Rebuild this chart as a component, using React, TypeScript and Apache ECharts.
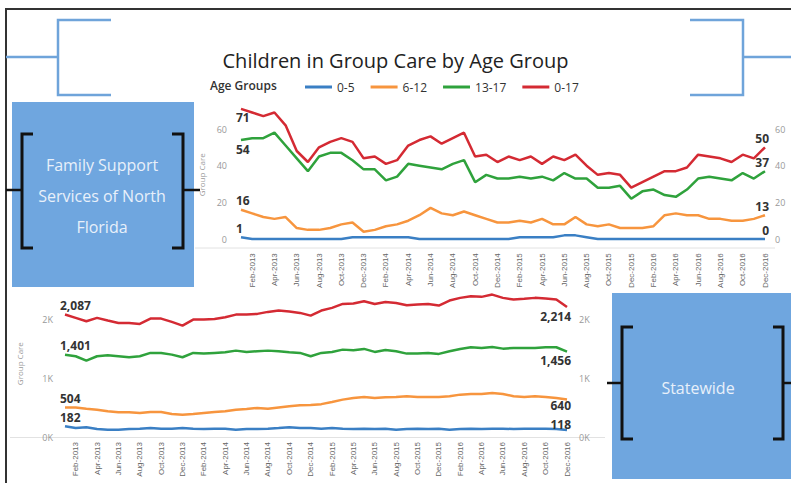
import React, { useEffect, useRef } from "react";
import * as echarts from "echarts";

const months = [
  "Jan-2013","Feb-2013","Mar-2013","Apr-2013","May-2013","Jun-2013","Jul-2013","Aug-2013","Sep-2013","Oct-2013","Nov-2013","Dec-2013",
  "Jan-2014","Feb-2014","Mar-2014","Apr-2014","May-2014","Jun-2014","Jul-2014","Aug-2014","Sep-2014","Oct-2014","Nov-2014","Dec-2014",
  "Jan-2015","Feb-2015","Mar-2015","Apr-2015","May-2015","Jun-2015","Jul-2015","Aug-2015","Sep-2015","Oct-2015","Nov-2015","Dec-2015",
  "Jan-2016","Feb-2016","Mar-2016","Apr-2016","May-2016","Jun-2016","Jul-2016","Aug-2016","Sep-2016","Oct-2016","Nov-2016","Dec-2016",
];

const ageGroups = ["0-5", "6-12", "13-17", "0-17"];

// Family Support Services of North Florida
const fs0to5 = [1,0,0,0,0,0,0,0,0,0,1,1,1,1,1,1,0,0,0,0,0,0,0,0, 0,1,1,1,1,2,2,1,0,0,0,0,0,0,0,0,0,0,0,0,0,0,0,0];
const fs6to12 = [16,14,12,11,12,6,5,5,6,8,9,4,5,7,8,10,13,17,14,13,15,13,11,9, 9,10,9,11,8,8,12,8,7,8,6,6,6,7,13,14,13,13,11,11,10,10,11,13];
const fs13to17 = [54,55,55,58,51,44,37,45,47,47,43,38,38,32,34,41,40,39,38,41,43,31,35,33, 33,34,33,34,32,36,33,33,28,28,29,22,26,27,24,23,27,33,34,33,32,36,33,37];
const fs0to17 = [71,69,67,69,62,48,42,50,53,55,53,44,45,41,43,51,54,56,52,55,58,45,46,42, 45,43,45,41,45,43,46,40,35,36,35,28,31,34,37,37,39,46,45,44,42,46,44,50];

// Statewide
const sw0to5 = [182,153,165,136,125,125,136,142,153,142,142,153,142,136,142,142,125,136,136,142,153,165,153, 153,142,153,142,136,142,136,142,125,136,142,136,142,125,136,142,136,142,142,136,142,142,142,136,118];
const sw6to12 = [504,504,483,466,438,421,421,409,426,426,392,381,392,409,426,438,466,478,495,483,504,523,540, 545,560,597,637,665,682,665,676,682,694,682,682,682,694,722,733,733,750,733,694,682,694,682,665,640];
const sw13to17 = [1401,1376,1302,1376,1393,1376,1359,1376,1433,1433,1404,1359,1433,1421,1433,1444,1472,1450,1461,1472,1461,1444,1433, 1376,1433,1450,1489,1478,1501,1450,1484,1461,1421,1421,1433,1416,1461,1501,1529,1518,1535,1506,1518,1518,1518,1529,1529,1456];
const sw0to17 = [2087,2030,1973,2030,1984,1944,1944,1927,2018,2018,1961,1899,2001,2001,2012,2041,2086,2086,2098,2132,2155,2140,2115, 2069,2155,2200,2268,2274,2314,2268,2302,2285,2246,2257,2268,2240,2325,2371,2399,2388,2427,2371,2342,2354,2371,2359,2342,2214];

const topTicks = [0, 20, 40, 60];
const bottomTicks = [0, 1000, 2000];

const colors = ["#3a7fc4", "#f7953e", "#2fa23c", "#d42a33"];
const FONT = "Open Sans";

function labeled(values: number[], firstPos: string, lastPos: string, fmt: (v: number) => string, lastDist = 3) {
  return values.map((v, i) => {
    if (i === 0)
      return { value: v, label: { show: true, position: firstPos, align: "left", offset: [-5, 0], formatter: () => fmt(v) } };
    if (i === values.length - 1)
      return { value: v, label: { show: true, position: lastPos, align: "right", offset: [4, 0], distance: lastDist, formatter: () => fmt(v) } };
    return v;
  });
}

const fmtTop = (v: number) => String(v);
const fmtBottom = (v: number) => v.toLocaleString("en-US");

function lineSeries(name: string, color: string, data: any[], axisIdx: number, yIdx: number) {
  return {
    type: "line",
    name,
    xAxisIndex: axisIdx,
    yAxisIndex: yIdx,
    data,
    showSymbol: true,
    showAllSymbol: true,
    symbol: "circle",
    symbolSize: 0,
    lineStyle: { color, width: 2.5 },
    itemStyle: { color },
    emphasis: { disabled: true },
    label: { show: false, fontWeight: "bold", fontSize: 12, color: "#333", fontFamily: FONT, distance: 3 },
  };
}

export default function App() {
  const ref = useRef<HTMLDivElement>(null);
  useEffect(() => {
    if (!ref.current) return;
    const chart = echarts.init(ref.current, null, { renderer: "svg" });
    const xAxisCommon = {
      type: "category",
      data: months,
      boundaryGap: false,
      axisLine: { show: false },
      axisTick: { show: false },
      axisLabel: {
        rotate: 90,
        interval: (i: number) => i % 2 === 1,
        fontSize: 8,
        color: "#666",
        margin: 5,
        fontFamily: "Liberation Sans",
      },
    };
    const topLabel = (v: number) => (topTicks.indexOf(v) >= 0 ? String(v) : "");
    const botLabel = (v: number) => (bottomTicks.indexOf(v) >= 0 ? v / 1000 + "K" : "");
    const yCommon = {
      type: "value",
      splitLine: { show: false },
      axisLine: { show: false },
      axisTick: { show: false },
    };
    const stroke = "#111";
    const blueDeco = "#6fa4da";
    const option: any = {
      animation: false,
      backgroundColor: "#ffffff",
      color: colors,
      title: {
        text: "Children in Group Care by Age Group",
        left: "center",
        top: 45,
        textStyle: { fontFamily: FONT, fontSize: 20, fontWeight: "normal", color: "#222" },
      },
      legend: {
        data: ageGroups,
        left: 300,
        top: 76,
        icon: "rect",
        itemWidth: 27,
        itemHeight: 3,
        itemGap: 16,
        textStyle: { fontSize: 12, fontFamily: FONT, color: "#333" },
      },
      grid: [
        { left: 241, right: 26, top: 101.5, height: 146.7 },
        { left: 65, right: 224, top: 290.3, height: 146.7 },
      ],
      xAxis: [
        { ...xAxisCommon, gridIndex: 0 },
        { ...xAxisCommon, gridIndex: 1 },
      ],
      yAxis: [
        {
          ...yCommon, gridIndex: 0, position: "left", min: -5, max: 75, interval: 5,
          axisLabel: { formatter: topLabel, color: "#999", fontSize: 9, margin: 14, fontFamily: FONT },
          name: "Group Care", nameLocation: "middle", nameGap: 33,
          nameTextStyle: { fontSize: 8, color: "#999", fontFamily: FONT },
        },
        {
          ...yCommon, gridIndex: 0, position: "right", min: -5, max: 75, interval: 5,
          axisLabel: { formatter: topLabel, color: "#999", fontSize: 9, margin: 10, fontFamily: FONT },
        },
        {
          ...yCommon, gridIndex: 1, position: "left", min: 0, max: 2500, interval: 500,
          axisLabel: { formatter: botLabel, color: "#999", fontSize: 9, margin: 12, fontFamily: FONT },
          name: "Group Care", nameLocation: "middle", nameGap: 42,
          nameTextStyle: { fontSize: 8, color: "#999", fontFamily: FONT },
        },
        {
          ...yCommon, gridIndex: 1, position: "right", min: 0, max: 2500, interval: 500,
          axisLabel: { formatter: botLabel, color: "#999", fontSize: 9, margin: 12, fontFamily: FONT },
        },
      ],
      series: [
        lineSeries(ageGroups[0], colors[0], labeled(fs0to5, "top", "top", fmtTop), 0, 0),
        lineSeries(ageGroups[1], colors[1], labeled(fs6to12, "top", "top", fmtTop), 0, 0),
        lineSeries(ageGroups[2], colors[2], labeled(fs13to17, "bottom", "top", fmtTop), 0, 0),
        lineSeries(ageGroups[3], colors[3], labeled(fs0to17, "bottom", "top", fmtTop), 0, 0),
        lineSeries(ageGroups[0], colors[0], labeled(sw0to5, "top", "top", fmtBottom, 0), 1, 2),
        lineSeries(ageGroups[1], colors[1], labeled(sw6to12, "top", "bottom", fmtBottom, 0), 1, 2),
        lineSeries(ageGroups[2], colors[2], labeled(sw13to17, "top", "bottom", fmtBottom), 1, 2),
        lineSeries(ageGroups[3], colors[3], labeled(sw0to17, "top", "bottom", fmtBottom), 1, 2),
      ],
      graphic: [
        // outer frame
        { type: "polyline", shape: { points: [[6, 483], [6, 9], [791, 9]] }, style: { stroke: "#333", lineWidth: 2, fill: null } },
        // decorative blue brackets
        { type: "polyline", shape: { points: [[111, 20], [58, 20], [58, 95], [111, 95]] }, style: { stroke: blueDeco, lineWidth: 2.5, fill: null } },
        { type: "line", shape: { x1: 6, y1: 57, x2: 58, y2: 57 }, style: { stroke: blueDeco, lineWidth: 2.5 } },
        { type: "polyline", shape: { points: [[690, 20], [743, 20], [743, 95], [690, 95]] }, style: { stroke: blueDeco, lineWidth: 2.5, fill: null } },
        { type: "line", shape: { x1: 743, y1: 57, x2: 791, y2: 57 }, style: { stroke: blueDeco, lineWidth: 2.5 } },
        // faint axis baselines
        { type: "line", shape: { x1: 195, y1: 248, x2: 775, y2: 248 }, style: { stroke: "#e2e2e2", lineWidth: 1 } },
        { type: "line", shape: { x1: 10, y1: 437.5, x2: 605, y2: 437.5 }, style: { stroke: "#e2e2e2", lineWidth: 1 } },
        // Age Groups legend title
        { type: "text", x: 210, y: 85, style: { text: "Age Groups", fontSize: 12, fontWeight: 600, fontFamily: FONT, fill: "#333", textVerticalAlign: "middle" } },
        // left box
        { type: "rect", shape: { x: 12, y: 102, width: 182, height: 185 }, style: { fill: "#6fa6df" } },
        { type: "text", x: 102, y: 196, style: { text: "Family Support\nServices of North\nFlorida", fontSize: 16, lineHeight: 31, fontFamily: FONT, fill: "#e8f0fa", textAlign: "center", textVerticalAlign: "middle" } },
        { type: "polyline", shape: { points: [[33, 134], [22, 134], [22, 248], [33, 248]] }, style: { stroke, lineWidth: 3, fill: null } },
        { type: "polyline", shape: { points: [[172, 134], [183, 134], [183, 248], [172, 248]] }, style: { stroke, lineWidth: 3, fill: null } },
        { type: "line", shape: { x1: 6, y1: 190, x2: 22, y2: 190 }, style: { stroke, lineWidth: 2.5 } },
        { type: "line", shape: { x1: 183, y1: 190, x2: 200, y2: 190 }, style: { stroke, lineWidth: 2.5 } },
        // right box
        { type: "rect", shape: { x: 612, y: 293, width: 179, height: 186 }, style: { fill: "#6fa6df" } },
        { type: "text", x: 698, y: 388, style: { text: "Statewide", fontSize: 16, fontFamily: FONT, fill: "#e8f0fa", textAlign: "center", textVerticalAlign: "middle" } },
        { type: "polyline", shape: { points: [[633, 327], [622, 327], [622, 439], [633, 439]] }, style: { stroke, lineWidth: 3, fill: null } },
        { type: "polyline", shape: { points: [[773, 327], [783, 327], [783, 439], [773, 439]] }, style: { stroke, lineWidth: 3, fill: null } },
        { type: "line", shape: { x1: 607, y1: 383, x2: 622, y2: 383 }, style: { stroke, lineWidth: 2.5 } },
        { type: "line", shape: { x1: 783, y1: 383, x2: 791, y2: 383 }, style: { stroke, lineWidth: 2.5 } },
      ],
    };
    chart.setOption(option);
    return () => chart.dispose();
  }, []);
  return <div ref={ref} style={{ position: "absolute", left: 0, top: 0, width: 791, height: 483 }} />;
}
